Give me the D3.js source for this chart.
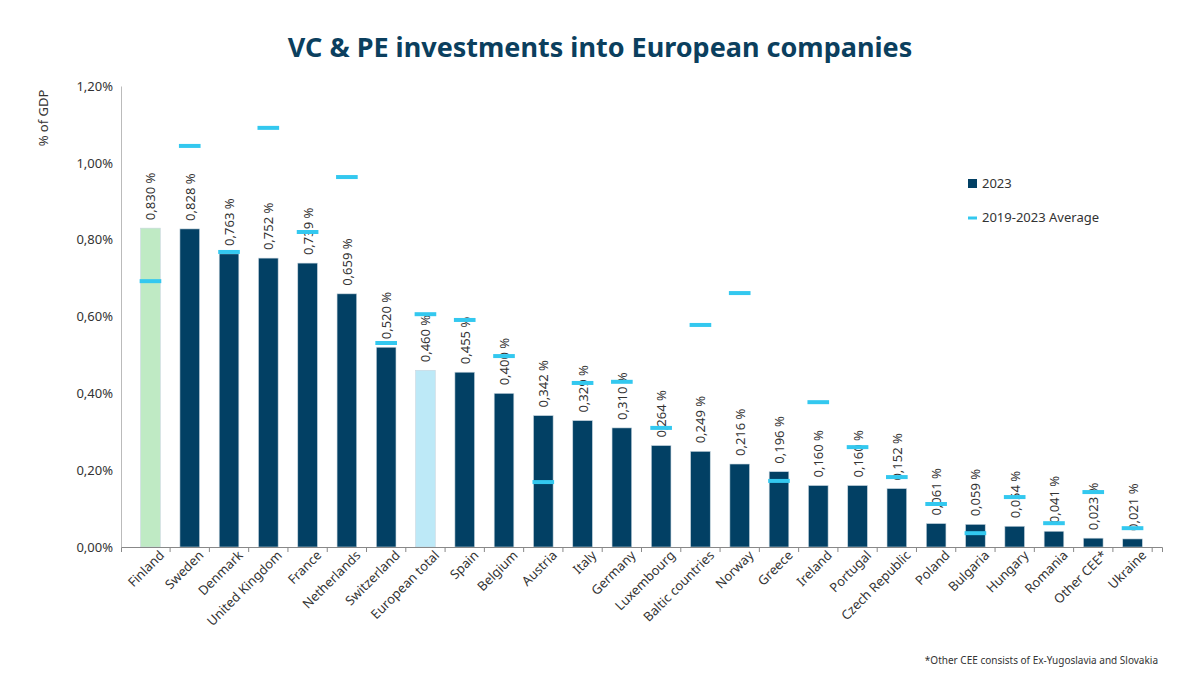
<!DOCTYPE html>
<html><head><meta charset="utf-8">
<script src="https://cdn.jsdelivr.net/npm/d3@7"></script>
<style>body{margin:0;background:#fff;font-family:"Noto Sans",sans-serif}</style>
</head><body><svg id="c" width="1200" height="675"></svg>
<script>
const countries = ["Finland","Sweden","Denmark","United Kingdom","France","Netherlands","Switzerland","European total","Spain","Belgium","Austria","Italy","Germany","Luxembourg","Baltic countries","Norway","Greece","Ireland","Portugal","Czech Republic","Poland","Bulgaria","Hungary","Romania","Other CEE*","Ukraine"];
const values2023 = [0.830,0.828,0.763,0.752,0.739,0.659,0.520,0.460,0.455,0.400,0.342,0.329,0.310,0.264,0.249,0.216,0.196,0.160,0.160,0.152,0.061,0.059,0.054,0.041,0.023,0.021];
const avg1923 = [0.692,1.044,0.768,1.091,0.820,0.963,0.531,0.606,0.591,0.497,0.169,0.427,0.430,0.310,0.578,0.661,0.172,0.377,0.260,0.182,0.112,0.036,0.130,0.062,0.143,0.049];
const yTicks = [0,0.2,0.4,0.6,0.8,1.0,1.2];

const svg = d3.select("#c");
const x = d3.scaleBand().domain(countries).range([121, 1162]).padding(0.5);
const y = d3.scaleLinear().domain([0, 1.2]).range([547, 86]);
const fmt = v => v.toFixed(3).replace(".", ",") + " %";
const color = (c) => c === "Finland" ? "#bfeac4" : c === "European total" ? "#bde9f7" : "#024064";

svg.append("text").attr("x", 600).attr("y", 57).attr("text-anchor", "middle")
  .attr("font-size", 27).attr("font-weight", "bold").attr("fill", "#0b3f5e")
  .text("VC & PE investments into European companies");

// y axis
const yAxis = svg.append("g").attr("transform", "translate(121,0)")
  .call(d3.axisLeft(y).tickValues(yTicks).tickSize(0).tickPadding(8)
    .tickFormat(v => v.toFixed(2).replace(".", ",") + "%"));
yAxis.select(".domain").attr("stroke", "#bbb");
yAxis.selectAll("text").attr("font-size", 13).attr("fill", "#333").attr("font-family", "Noto Sans");
svg.append("text").attr("transform", "translate(48,118) rotate(-90)").attr("text-anchor", "middle")
  .attr("font-size", 13).attr("fill", "#333").text("% of GDP");

// bars
svg.selectAll("rect.bar").data(countries).join("rect").attr("class", "bar")
  .attr("x", c => x(c)).attr("width", x.bandwidth())
  .attr("y", (c, i) => y(values2023[i])).attr("height", (c, i) => y(0) - y(values2023[i]))
  .attr("fill", color).attr("stroke", "#c9d6df").attr("stroke-width", 0.6);

// x axis
const xAxis = svg.append("g").attr("transform", "translate(0,547)")
  .call(d3.axisBottom(x).tickSize(5).tickPadding(4));
xAxis.select(".domain").attr("stroke", "#888");
xAxis.selectAll(".tick line").attr("stroke", "#888").attr("transform", `translate(${x.step()/2},0)`);
xAxis.selectAll("text").attr("font-size", 13).attr("fill", "#333").attr("font-family", "Noto Sans")
  .attr("text-anchor", "end").attr("dx", "0.3em").attr("dy", "0.6em").attr("transform", "rotate(-45)");

// value labels
svg.selectAll("text.val").data(countries).join("text").attr("class", "val")
  .attr("transform", (c, i) => `translate(${x(c) + x.bandwidth()/2 + 5},${y(values2023[i]) - 8}) rotate(-90)`)
  .attr("font-size", 13).attr("fill", "#333").text((c, i) => fmt(values2023[i]));

// average markers
svg.selectAll("line.avg").data(countries).join("line").attr("class", "avg")
  .attr("x1", c => x(c) - 1).attr("x2", c => x(c) + x.bandwidth() + 1)
  .attr("y1", (c, i) => y(avg1923[i])).attr("y2", (c, i) => y(avg1923[i]))
  .attr("stroke", "#33c8ef").attr("stroke-width", 4);

// legend
const lg = svg.append("g").attr("transform", "translate(968,184)");
lg.append("rect").attr("x", 0).attr("y", -5).attr("width", 9).attr("height", 9).attr("fill", "#024064");
lg.append("text").attr("x", 14).attr("y", 4).attr("font-size", 13).attr("fill", "#333").text("2023");
lg.append("line").attr("x1", 0).attr("x2", 9).attr("y1", 34).attr("y2", 34).attr("stroke", "#33c8ef").attr("stroke-width", 3);
lg.append("text").attr("x", 14).attr("y", 38).attr("font-size", 13).attr("fill", "#333").text("2019-2023 Average");

svg.append("text").attr("x", 1158).attr("y", 664).attr("text-anchor", "end")
  .attr("font-size", 10).attr("fill", "#333").text("*Other CEE consists of Ex-Yugoslavia and Slovakia");
</script></body></html>
